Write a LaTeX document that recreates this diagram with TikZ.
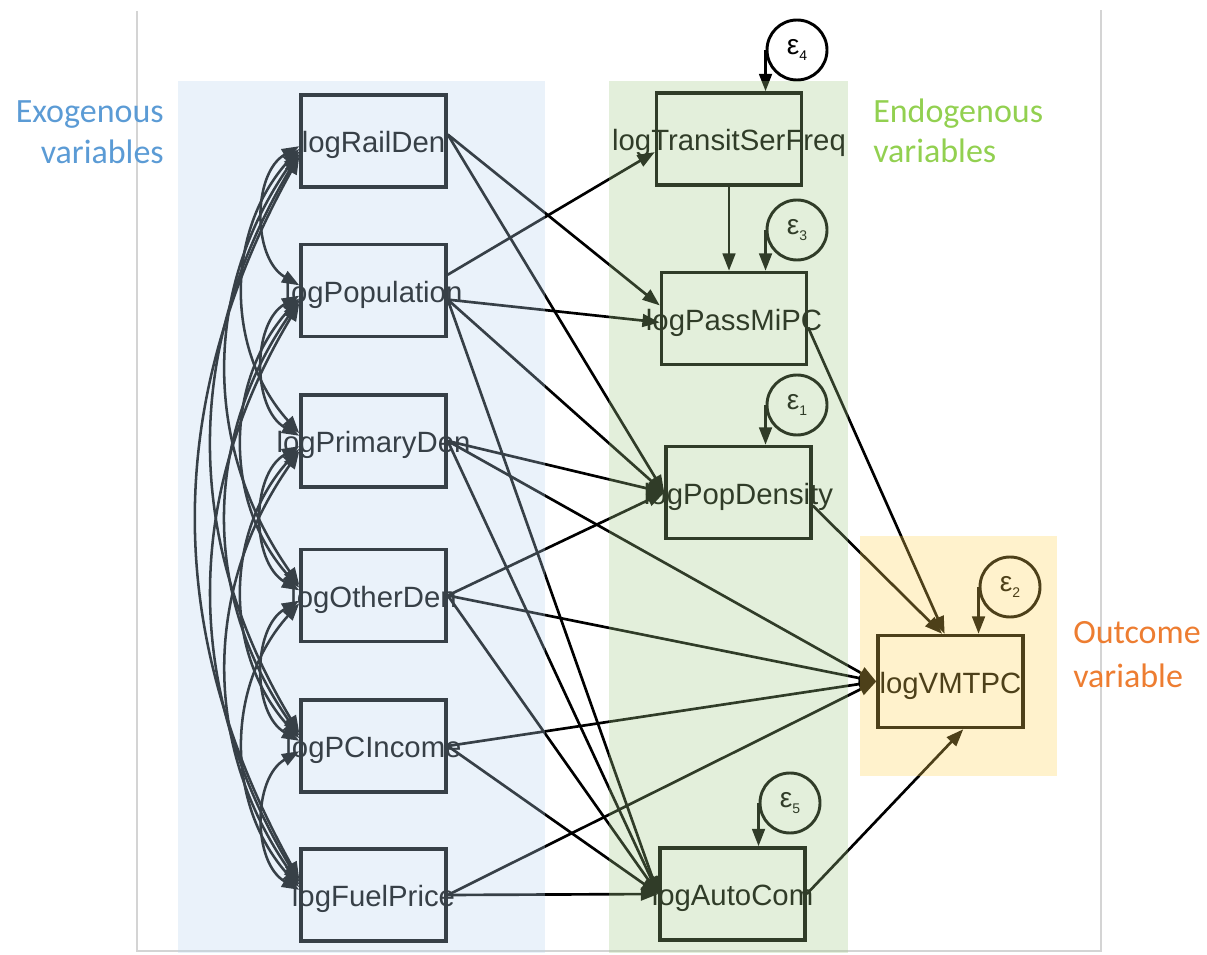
\documentclass[tikz,border=0pt]{standalone}
\usepackage{fontspec}
\setmainfont{Liberation Sans}
\newfontfamily\labelfont{Carlito}
\usetikzlibrary{arrows.meta}

% tints laid over the three groups of variables
\definecolor{exoblue}{RGB}{185,212,238}
\definecolor{endogreen}{RGB}{162,202,135}
\definecolor{outyellow}{RGB}{255,212,85}
% group captions
\definecolor{exotext}{RGB}{91,155,213}
\definecolor{endotext}{RGB}{146,208,80}
\definecolor{outtext}{RGB}{237,125,49}
\definecolor{framegray}{RGB}{212,212,212}

\begin{document}
\begin{tikzpicture}[x=0.75pt,y=0.75pt,
  >={Triangle[length=13pt,width=9.5pt]},
  var/.style={draw=black, line width=2.6pt, minimum width=108.75pt,
    minimum height=69pt, inner sep=0pt},
  every label/.style={font=\fontsize{22}{26}\selectfont, inner sep=0pt, yshift=-3pt},
  err/.style={circle, draw=black, line width=2.2pt, minimum size=45pt,
    inner sep=0pt, font=\fontsize{21}{24}\selectfont},
  reg/.style={->, line width=2pt, black},
  cov/.style={<->, line width=1.9pt, black},
  side/.style={font=\labelfont\fontsize{25.5}{30.75}\selectfont, inner sep=0pt}
]
\useasboundingbox (0,0) rectangle (1207,-955);

% page frame
\draw[framegray, line width=1.1pt] (137,-11) -- (137,-951) -- (1101,-951) -- (1101,-10);

% exogenous variables
\node[var, label=center:logRailDen]    (x1) at (373.5,-141) {};
\node[var, label=center:logPopulation] (x2) at (373.5,-290.5) {};
\node[var, label=center:logPrimaryDen] (x3) at (373.5,-441) {};
\node[var, label=center:logOtherDen]   (x4) at (373.5,-595.5) {};
\node[var, label=center:logPCIncome]   (x5) at (373.5,-746) {};
\node[var, label=center:logFuelPrice]  (x6) at (373.5,-895) {};

% endogenous variables
\node[var, label=center:logTransitSerFreq] (T) at (729,-139) {};
\node[var, label=center:logPassMiPC]       (M) at (734,-318.5) {};
\node[var, label=center:logPopDensity]     (D) at (738.5,-492.5) {};
\node[var, label=center:logAutoCom]        (A) at (732.5,-894) {};
\node[var, label=center:logVMTPC]          (V) at (950.5,-681.5) {};

% error terms
\node[err] (e4) at (797,-50)  {ε\raisebox{-4pt}{\fontsize{10.5}{10}\selectfont 4}};
\node[err] (e3) at (797,-230) {ε\raisebox{-4pt}{\fontsize{10.5}{10}\selectfont 3}};
\node[err] (e1) at (797,-405) {ε\raisebox{-4pt}{\fontsize{10.5}{10}\selectfont 1}};
\node[err] (e5) at (790,-803) {ε\raisebox{-4pt}{\fontsize{10.5}{10}\selectfont 5}};
\node[err] (e2) at (1010,-587) {ε\raisebox{-4pt}{\fontsize{10.5}{10}\selectfont 2}};

\draw[reg] (e4.west) -- (e4.west |- T.north);
\draw[reg] (e3.west) -- (e3.west |- M.north);
\draw[reg] (e1.west) -- (e1.west |- D.north);
\draw[reg] (e5.west) -- (e5.west |- A.north);
\draw[reg] (e2.west) -- (e2.west |- V.north);

% structural paths
\draw[reg] (x2.12)  -- (T.190);
\draw[reg] (x1.5)   -- (M.170);
\draw[reg] (x2.353) -- (M.183);
\draw[reg] (T.south) -- (T.south |- M.north);
\draw[reg] (x1.5)   -- (D.west);
\draw[reg] (x2.353) -- (D.west);
\draw[reg] (x3.east) -- (D.west);
\draw[reg] (x4.east) -- (D.west);
\draw[reg] (x2.353) -- (A.west);
\draw[reg] (x3.east) -- (A.west);
\draw[reg] (x4.east) -- (A.west);
\draw[reg] (x5.east) -- (A.west);
\draw[reg] (x6.east) -- (A.west);
\draw[reg] (x3.east) -- (V.west);
\draw[reg] (x4.east) -- (V.west);
\draw[reg] (x5.east) -- (V.west);
\draw[reg] (x6.east) -- (V.west);
\draw[reg] (M.353) -- (V.97);
\draw[reg] (D.350) -- (V.100);
\draw[reg] (A.east) -- (V.285);

% covariances among the exogenous variables
\foreach \i in {1,...,5}{
  \pgfmathtruncatemacro\first{\i+1}
  \foreach \j in {\first,...,6}{
    \pgfmathtruncatemacro\k{\j-\i}
    \pgfmathtruncatemacro\bend{{60,42,35,31,29}[\k-1]}
    \pgfmathtruncatemacro\sa{182+2*\k}
    \pgfmathtruncatemacro\ea{178-2*\k}
    \draw[cov] (x\i.\sa) to[bend right=\bend] (x\j.\ea);
  }
}

% group tints
\fill[exoblue, fill opacity=0.3] (178,-81) rectangle (545,-953);
\fill[endogreen, fill opacity=0.3] (609,-81) rectangle (848,-953);
\fill[outyellow, fill opacity=0.3] (860,-536) rectangle (1057,-776);

% group captions
\node[side, text=exotext, anchor=base east] (exo1) at (164,-123) {Exogenous};
\node[side, text=exotext, anchor=base east] (exo2) at (164,-164) {variables};
\node[side, text=endotext, anchor=base west] (endo1) at (873,-123) {Endogenous};
\node[side, text=endotext, anchor=base west] (endo2) at (873,-163) {variables};
\node[side, text=outtext, anchor=base west] (out1) at (1073,-643) {Outcome};
\node[side, text=outtext, anchor=base west] (out2) at (1073,-687) {variable};
\end{tikzpicture}
\end{document}
